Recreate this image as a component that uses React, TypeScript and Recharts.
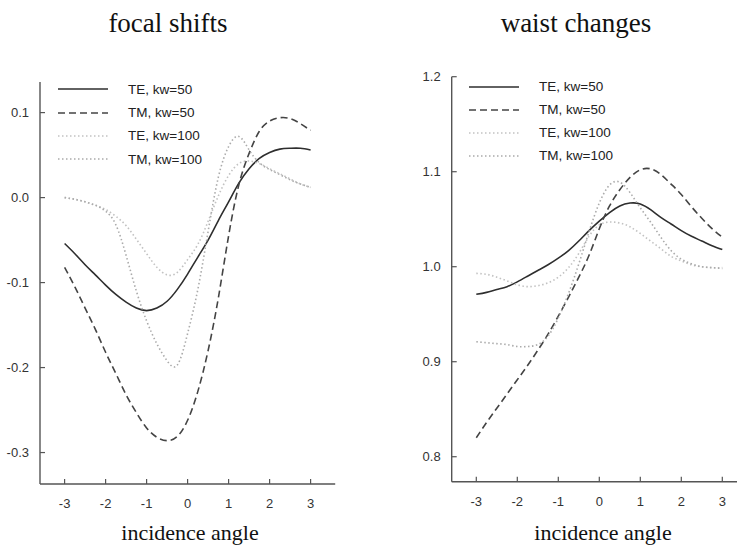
import React from "react";
import { Legend, Line, LineChart, XAxis, YAxis } from "recharts";

// incidence angle samples shared by every curve
const angles = [
  -3, -2.75, -2.5, -2.25, -2, -1.75, -1.5, -1.25, -1, -0.75, -0.5, -0.25, 0,
  0.25, 0.5, 0.75, 1, 1.25, 1.5, 1.75, 2, 2.25, 2.5, 2.75, 3
];

const angleTicks = [-3, -2, -1, 0, 1, 2, 3];
const focalTicks = [-0.3, -0.2, -0.1, 0.0, 0.1];
const waistTicks = [0.8, 0.9, 1.0, 1.1, 1.2];

// focal shifts
const focalTe50 = [
  -0.054, -0.066, -0.079, -0.091, -0.103, -0.114, -0.123, -0.13, -0.133, -0.13,
  -0.122, -0.108, -0.09, -0.07, -0.05, -0.027, -0.005, 0.017, 0.034, 0.046,
  0.053, 0.057, 0.058, 0.058, 0.056
];
const focalTm50 = [
  -0.082, -0.105, -0.13, -0.155, -0.182, -0.207, -0.232, -0.253, -0.271, -0.282,
  -0.286, -0.281, -0.262, -0.228, -0.18, -0.118, -0.045, 0.015, 0.052, 0.078,
  0.09, 0.094, 0.093, 0.087, 0.079
];
const focalTe100 = [
  0.0, -0.002, -0.005, -0.009, -0.014, -0.022, -0.033, -0.049, -0.066, -0.082,
  -0.091, -0.088, -0.073, -0.055, -0.028, 0.002, 0.026, 0.04, 0.043, 0.04,
  0.034, 0.028, 0.022, 0.016, 0.012
];
const focalTm100 = [
  0.0, -0.002, -0.005, -0.009, -0.016, -0.032, -0.068, -0.11, -0.145, -0.172,
  -0.192, -0.197, -0.16, -0.108, -0.04, 0.024, 0.06, 0.072, 0.056, 0.041,
  0.033, 0.027, 0.021, 0.016, 0.012
];

// waist changes
const waistTe50 = [
  0.971, 0.973, 0.976, 0.979, 0.984, 0.99, 0.996, 1.002, 1.009, 1.017,
  1.027, 1.038, 1.048, 1.057, 1.064, 1.067, 1.066, 1.06, 1.052, 1.045,
  1.038, 1.032, 1.027, 1.022, 1.018
];
const waistTm50 = [
  0.82, 0.836, 0.851, 0.866, 0.881, 0.896, 0.912, 0.929, 0.948, 0.968,
  0.989, 1.012, 1.04, 1.064, 1.081, 1.094, 1.102, 1.103, 1.097, 1.087,
  1.076, 1.063, 1.051, 1.04, 1.031
];
const waistTe100 = [
  0.993, 0.992, 0.989, 0.985, 0.981, 0.979, 0.98, 0.983, 0.989, 0.999,
  1.014, 1.032, 1.044, 1.047, 1.046, 1.042, 1.035, 1.027, 1.019, 1.011,
  1.006, 1.002, 1.0, 0.999, 0.999
];
const waistTm100 = [
  0.921, 0.92, 0.919, 0.918, 0.916, 0.916, 0.918, 0.927, 0.946, 0.972,
  1.003, 1.037, 1.067, 1.086, 1.089, 1.078, 1.062, 1.047, 1.031, 1.017,
  1.008, 1.003, 1.0, 0.999, 0.998
];

const focalRows = angles.map((x, i) => ({
  x,
  te50: focalTe50[i],
  tm50: focalTm50[i],
  te100: focalTe100[i],
  tm100: focalTm100[i]
}));

const waistRows = angles.map((x, i) => ({
  x,
  te50: waistTe50[i],
  tm50: waistTm50[i],
  te100: waistTe100[i],
  tm100: waistTm100[i]
}));

const series = [
  { key: "te50", name: "TE, kw=50", stroke: "#2e2e2e", dash: undefined, width: 1.6 },
  { key: "tm50", name: "TM, kw=50", stroke: "#444", dash: "7 4", width: 1.6 },
  { key: "te100", name: "TE, kw=100", stroke: "#c2c2c2", dash: "1.5 2.5", width: 1.6 },
  { key: "tm100", name: "TM, kw=100", stroke: "#ababab", dash: "1.5 2.5", width: 1.6 }
];

const sans = "'Liberation Sans', Arial, sans-serif";
const serif = "'Liberation Serif', 'Times New Roman', serif";
const axisStroke = "#555";
const tickStyle = { fill: "#333", fontSize: 13, fontFamily: sans };

function SeriesLegend({ rowHeight }: { rowHeight: number }) {
  return (
    <div style={{ fontFamily: sans, fontSize: 13.5, color: "#222" }}>
      {series.map((s) => (
        <div key={s.key} style={{ display: "flex", alignItems: "center", height: rowHeight }}>
          <svg width={50} height={6} style={{ marginRight: 20 }}>
            <line
              x1={0}
              y1={3}
              x2={50}
              y2={3}
              stroke={s.stroke}
              strokeWidth={s.width}
              strokeDasharray={s.dash}
            />
          </svg>
          <span>{s.name}</span>
        </div>
      ))}
    </div>
  );
}

function Panel({
  rows,
  domain,
  ticks,
  width,
  top,
  axisX,
  plotWidth,
  bottomSpace,
  legendPos,
  rowHeight
}: {
  rows: Record<string, number>[];
  domain: [number, number];
  ticks: number[];
  width: number;
  top: number;
  axisX: number;
  plotWidth: number;
  bottomSpace: number;
  legendPos: { left: number; top: number };
  rowHeight: number;
}) {
  return (
    <LineChart
      width={width}
      height={548}
      data={rows}
      margin={{ top, right: width - axisX - plotWidth, bottom: 0, left: 0 }}
    >
      <XAxis
        type="number"
        dataKey="x"
        domain={[-3.6, 3.6]}
        ticks={angleTicks}
        interval={0}
        height={bottomSpace}
        tickSize={-5}
        tickMargin={20}
        axisLine={{ stroke: axisStroke, strokeWidth: 1.4 }}
        tickLine={{ stroke: axisStroke, strokeWidth: 1.2 }}
        tick={tickStyle}
        allowDataOverflow
      />
      <YAxis
        type="number"
        domain={domain}
        ticks={ticks}
        interval={0}
        width={axisX}
        tickSize={-5}
        tickMargin={16}
        tickFormatter={(v: number) => v.toFixed(1)}
        axisLine={{ stroke: axisStroke, strokeWidth: 1.4 }}
        tickLine={{ stroke: axisStroke, strokeWidth: 1.2 }}
        tick={tickStyle}
        allowDataOverflow
      />
      <Legend
        layout="horizontal"
        verticalAlign="middle"
        align="center"
        wrapperStyle={{ left: legendPos.left, top: legendPos.top, width: 160 }}
        content={() => <SeriesLegend rowHeight={rowHeight} />}
      />
      {series.map((s) => (
        <Line
          key={s.key}
          type="natural"
          dataKey={s.key}
          name={s.name}
          stroke={s.stroke}
          strokeWidth={s.width}
          strokeDasharray={s.dash}
          dot={false}
          activeDot={false}
          isAnimationActive={false}
        />
      ))}
    </LineChart>
  );
}

export default function App() {
  return (
    <div
      style={{
        position: "absolute",
        left: 0,
        top: 0,
        width: 737,
        height: 548,
        overflow: "hidden",
        background: "#fff"
      }}
    >
      <div style={{ position: "absolute", left: 0, top: 0 }}>
        <Panel
          rows={focalRows}
          domain={[-0.337, 0.136]}
          ticks={focalTicks}
          width={370}
          top={82}
          axisX={40}
          plotWidth={295.2}
          bottomSpace={64}
          legendPos={{ left: 58, top: 77.7 }}
          rowHeight={23.3}
        />
      </div>
      <div style={{ position: "absolute", left: 370, top: 0 }}>
        <Panel
          rows={waistRows}
          domain={[0.7737, 1.2]}
          ticks={waistTicks}
          width={380}
          top={76.7}
          axisX={81.7}
          plotWidth={295.2}
          bottomSpace={66.3}
          legendPos={{ left: 99, top: 75.2 }}
          rowHeight={23}
        />
      </div>
      <svg
        width={737}
        height={548}
        style={{ position: "absolute", left: 0, top: 0, pointerEvents: "none" }}
      >
        <g fontFamily={serif} fill="#111" textAnchor="middle">
          <text x={168} y={32} fontSize={27}>focal shifts</text>
          <text x={576} y={32} fontSize={27}>waist changes</text>
          <text x={190} y={540} fontSize={22}>incidence angle</text>
          <text x={603} y={540} fontSize={22}>incidence angle</text>
        </g>
      </svg>
    </div>
  );
}
